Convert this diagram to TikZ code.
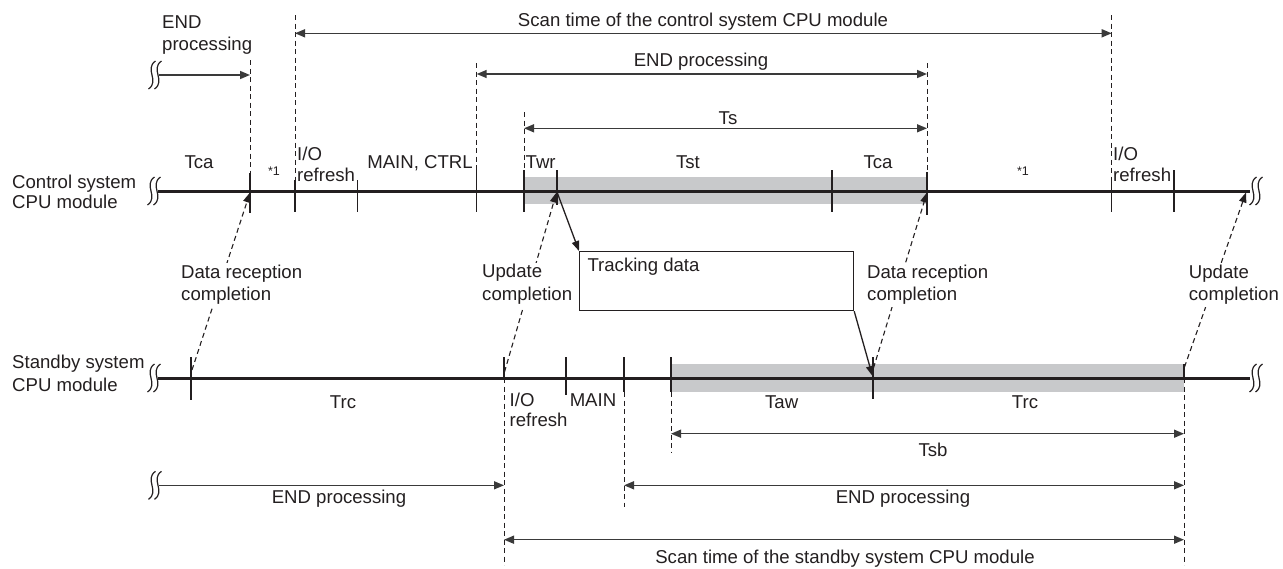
\documentclass[tikz,border=0pt]{standalone}
\usepackage{fontspec}
\setmainfont{Liberation Sans}
\usetikzlibrary{arrows.meta}
\definecolor{ink}{HTML}{231F20}
\definecolor{band}{HTML}{C8C9CB}
\definecolor{dimgray}{HTML}{3A3A3A}
\newcommand\wavemark[2]{\draw[wave] ({#1+3.5},{#2-14}) .. controls ({#1-8},{#2-6}) and ({#1+8},{#2+6}) .. ({#1-3.5},{#2+14});}
\begin{document}
\begin{tikzpicture}[x=1pt,y=-1pt,
  every node/.style={inner sep=0pt, text=ink, font=\fontsize{18.6}{21.6}\selectfont},
  lbl/.style={anchor=base},
  lblw/.style={anchor=base west},
  mask/.style={anchor=base west, fill=white, text height=15pt, text depth=6.5pt, inner xsep=2pt},
  small/.style={anchor=base, font=\fontsize{12.5}{14}\selectfont},
  timeline/.style={line width=3pt, draw=ink},
  tick/.style={line width=1.3pt, draw=ink},
  guide/.style={line width=1pt, draw=ink, dash pattern=on 5pt off 3.5pt},
  dimboth/.style={line width=1.5pt, draw=dimgray, {Triangle[length=10pt,width=8pt]}-{Triangle[length=10pt,width=8pt]}},
  dimright/.style={line width=1.5pt, draw=dimgray, -{Triangle[length=10pt,width=8pt]}},
  flow/.style={line width=1.3pt, draw=ink, -{Triangle[length=10pt,width=7.5pt]}},
  dflow/.style={line width=1.1pt, draw=ink, dash pattern=on 5pt off 3.5pt, -{Triangle[length=10pt,width=7.5pt]}},
  box/.style={draw=ink, line width=1.2pt, anchor=north west, minimum width=274pt, minimum height=59pt},
  wave/.style={line width=1.2pt, draw=ink},
]
\useasboundingbox (0,0) rectangle (1283,568);

% shaded bands
\fill[band] (524,177) rectangle (927,204);
\fill[band] (671,364) rectangle (1184,392);

% timelines
\coordinate (cL) at (158,191); \coordinate (cR) at (1250,191);
\coordinate (sL) at (158,378); \coordinate (sR) at (1250,378);
\draw[timeline] (cL) -- (cR);
\draw[timeline] (sL) -- (sR);
\wavemark{151}{191}\wavemark{157}{191}
\wavemark{151}{378}\wavemark{157}{378}
\wavemark{1253}{191}\wavemark{1259}{191}
\wavemark{1253}{378}\wavemark{1259}{378}

% ticks
\foreach \x/\a/\b in {250/173/213, 295/180/212, 357.7/180/212, 476.7/170/212, 524/170/212,
  557/170/205, 832/170/212, 927/172/215, 1111.7/180/212, 1174/170/212,
  191/357/400, 504/357/378, 566/357/395, 624/357/392, 671/357/392, 873/357/399, 1184/364/378}
  \draw[tick] (\x,\a) -- (\x,\b);

% dashed guides
\foreach \x/\a/\b in {250/60/173, 295/15/180, 476.7/63/170, 524/112/170, 927/63/172, 1111.7/15/180,
  504/378/565, 624/392/507, 671/392/453, 1184/378/565}
  \draw[guide] (\x,\a) -- (\x,\b);

% dimension arrows (top)
\coordinate (scA) at (295,33.3); \coordinate (scB) at (1111.7,33.3);
\draw[dimboth] (scA) -- (scB);
\node[lbl] (scT) at (703,26.7) {Scan time of the control system CPU module};
\coordinate (enA) at (476.7,74); \coordinate (enB) at (927,74);
\draw[dimboth] (enA) -- (enB);
\node[lbl] (enT) at (701,66.7) {END processing};
\coordinate (tsA) at (524,128.3); \coordinate (tsB) at (927,128.3);
\draw[dimboth] (tsA) -- (tsB);
\node[lbl] (tsT) at (728,124) {Ts};
\wavemark{152}{75}\wavemark{158}{75}
\coordinate (elA) at (159,75); \coordinate (elB) at (250,75);
\draw[dimright] (elA) -- (elB);
\node[lblw] (elT1) at (162,28.3) {END};
\node[lblw] (elT2) at (162,50) {processing};

% dimension arrows (bottom)
\coordinate (sbA) at (671,433.7); \coordinate (sbB) at (1184,433.7);
\draw[dimboth] (sbA) -- (sbB);
\node[lbl] (sbT) at (933,456) {Tsb};
\coordinate (erA) at (624,485.3); \coordinate (erB) at (1184,485.3);
\draw[dimboth] (erA) -- (erB);
\node[lbl] (erT) at (903,503) {END processing};
\wavemark{152}{485.3}\wavemark{158}{485.3}
\coordinate (ebA) at (159,485.3); \coordinate (ebB) at (504,485.3);
\draw[dimright] (ebA) -- (ebB);
\node[lbl] (ebT) at (339,503) {END processing};
\coordinate (ssA) at (504,539.7); \coordinate (ssB) at (1184,539.7);
\draw[dimboth] (ssA) -- (ssB);
\node[lbl] (ssT) at (845,563.7) {Scan time of the standby system CPU module};

% tracking data box and flows
\node[box] (track) at (579,251) {};
\node[lblw] (trackT) at (587.3,271.7) {Tracking data};
\coordinate (twr) at (557,192);
\coordinate (taw) at (872.5,376);
\draw[flow] (twr) -- (track.north west);
\draw[flow] (track.south east) -- (taw);

% dashed completion arrows
\coordinate (d1a) at (192,370); \coordinate (d1b) at (250,192.5);
\coordinate (d2a) at (504.5,372); \coordinate (d2b) at (556.5,192.5);
\coordinate (d3a) at (873.5,368); \coordinate (d3b) at (927,192.5);
\coordinate (d4a) at (1184.5,367); \coordinate (d4b) at (1246,192.5);
\draw[dflow] (d1a) -- (d1b);
\draw[dflow] (d2a) -- (d2b);
\draw[dflow] (d3a) -- (d3b);
\draw[dflow] (d4a) -- (d4b);

% labels on the middle area
\node[mask] (drL1) at (179,278.3) {Data reception};
\node[mask] (drL2) at (179,300) {completion};
\node[mask] (ucL1) at (480,277.5) {Update};
\node[mask] (ucL2) at (480,300) {completion};
\node[mask] (drR1) at (865,278.3) {Data reception};
\node[mask] (drR2) at (865,300) {completion};
\node[mask] (ucR1) at (1186.7,278.3) {Update};
\node[mask] (ucR2) at (1186.7,300) {completion};

% row titles
\node[lblw] (ctl1) at (12,188.3) {Control system};
\node[lblw] (ctl2) at (12,208.3) {CPU module};
\node[lblw] (stb1) at (12,368.3) {Standby system};
\node[lblw] (stb2) at (12,391.7) {CPU module};

% control line labels
\node[lbl] (tca1) at (199,168.3) {Tca};
\node[small] (st1) at (274,175) {*1};
\node[lblw] (io1a) at (297,160) {I/O};
\node[lblw] (io1b) at (297,181.7) {refresh};
\node[lbl] (mc) at (420,168.3) {MAIN, CTRL};
\node[lblw] (twrT) at (525.5,168.3) {Twr};
\node[lbl] (tstT) at (688,168.3) {Tst};
\node[lbl] (tca2) at (878,168.3) {Tca};
\node[small] (st2) at (1023,175) {*1};
\node[lblw] (io2a) at (1113,160) {I/O};
\node[lblw] (io2b) at (1113,181.7) {refresh};

% standby line labels
\node[lbl] (trc1) at (343,408.3) {Trc};
\node[lblw] (io3a) at (509.5,406.7) {I/O};
\node[lblw] (io3b) at (509.5,426.7) {refresh};
\node[lbl] (mainT) at (593,406.7) {MAIN};
\node[lbl] (tawT) at (781.7,408) {Taw};
\node[lbl] (trc2) at (1025,408.3) {Trc};
\end{tikzpicture}
\end{document}
